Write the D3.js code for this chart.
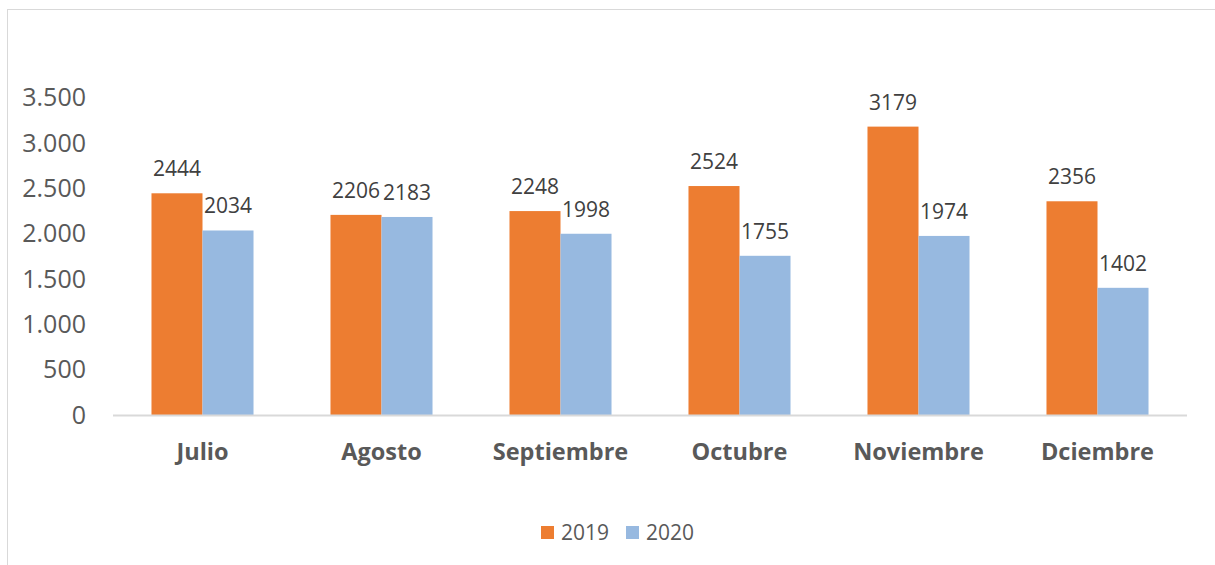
<!DOCTYPE html>
<html lang="es">
  <head>
    <meta charset="UTF-8" />
    <title>2019 vs 2020</title>
    <script src="https://d3js.org/d3.v7.min.js"></script>
    <style>
      body {
        margin: 0;
        background: #fff;
        font-family: "Open Sans", sans-serif;
      }
      svg {
        display: block;
      }
      .tick-label {
        font-size: 25px;
        fill: #595959;
      }
      .cat-label {
        font-size: 23.5px;
        font-weight: bold;
        fill: #595959;
      }
      .value-label {
        font-size: 21px;
        fill: #404040;
      }
      .legend-text {
        font-size: 21px;
        fill: #595959;
      }
    </style>
  </head>
  <body>
    <svg id="chart" width="1215" height="565"></svg>
    <script>
      const months = ["Julio", "Agosto", "Septiembre", "Octubre", "Noviembre", "Dciembre"];
      const seriesNames = ["2019", "2020"];
      const values2019 = [2444, 2206, 2248, 2524, 3179, 2356];
      const values2020 = [2034, 2183, 1998, 1755, 1974, 1402];
      const yTicks = [0, 500, 1000, 1500, 2000, 2500, 3000, 3500];

      const colors = ["#ED7D31", "#97B9E0"];
      const width = 1215,
        height = 565;
      const margin = { top: 97.5, left: 113, right: 28, bottom: 150 };

      const data = months.map((m, i) => ({
        month: m,
        values: [values2019[i], values2020[i]],
      }));

      const svg = d3.select("#chart");

      // marco
      svg
        .append("rect")
        .attr("x", 7.5)
        .attr("y", 9.5)
        .attr("width", width)
        .attr("height", height)
        .attr("fill", "none")
        .attr("stroke", "#d9d9d9");

      const x = d3
        .scaleBand()
        .domain(months)
        .range([margin.left, width - margin.right])
        .paddingInner(0.43)
        .paddingOuter(0.215);

      const x1 = d3.scaleBand().domain(seriesNames).range([0, x.bandwidth()]);

      const y = d3
        .scaleLinear()
        .domain([0, 3500])
        .range([415, margin.top]);

      // etiquetas eje Y
      svg
        .append("g")
        .selectAll("text")
        .data(yTicks)
        .join("text")
        .attr("class", "tick-label")
        .attr("x", 86)
        .attr("y", (d) => y(d))
        .attr("dy", "0.35em")
        .attr("text-anchor", "end")
        .text((d) => d3.format(",")(d).replace(/,/g, "."));

      // barras
      const groups = svg
        .append("g")
        .selectAll("g")
        .data(data)
        .join("g")
        .attr("transform", (d) => `translate(${x(d.month)},0)`);

      groups
        .selectAll("rect")
        .data((d) => d.values.map((v, i) => ({ key: seriesNames[i], value: v, i })))
        .join("rect")
        .attr("x", (d) => x1(d.key))
        .attr("y", (d) => y(d.value))
        .attr("width", x1.bandwidth())
        .attr("height", (d) => y(0) - y(d.value))
        .attr("fill", (d) => colors[d.i]);

      groups
        .selectAll("text")
        .data((d) => d.values.map((v, i) => ({ key: seriesNames[i], value: v, i })))
        .join("text")
        .attr("class", "value-label")
        .attr("x", (d) => x1(d.key) + x1.bandwidth() / 2)
        .attr("y", (d) => y(d.value) - 17)
        .attr("text-anchor", "middle")
        .text((d) => d.value);

      // línea base
      svg
        .append("line")
        .attr("x1", margin.left)
        .attr("x2", width - margin.right)
        .attr("y1", y(0) + 0.5)
        .attr("y2", y(0) + 0.5)
        .attr("stroke", "#d9d9d9")
        .attr("stroke-width", 2);

      // etiquetas de categoría
      svg
        .append("g")
        .selectAll("text")
        .data(months)
        .join("text")
        .attr("class", "cat-label")
        .attr("x", (d) => x(d) + x.bandwidth() / 2)
        .attr("y", 452)
        .attr("dy", "0.35em")
        .attr("text-anchor", "middle")
        .text((d) => d);

      // leyenda
      const legendX = [541, 626];
      const legend = svg
        .append("g")
        .selectAll("g")
        .data(seriesNames)
        .join("g")
        .attr("transform", (d, i) => `translate(${legendX[i]},526)`);

      legend
        .append("rect")
        .attr("width", 13)
        .attr("height", 13)
        .attr("fill", (d, i) => colors[i]);

      legend
        .append("text")
        .attr("class", "legend-text")
        .attr("x", 20)
        .attr("y", 6.5)
        .attr("dy", "0.35em")
        .text((d) => d);
    </script>
  </body>
</html>
